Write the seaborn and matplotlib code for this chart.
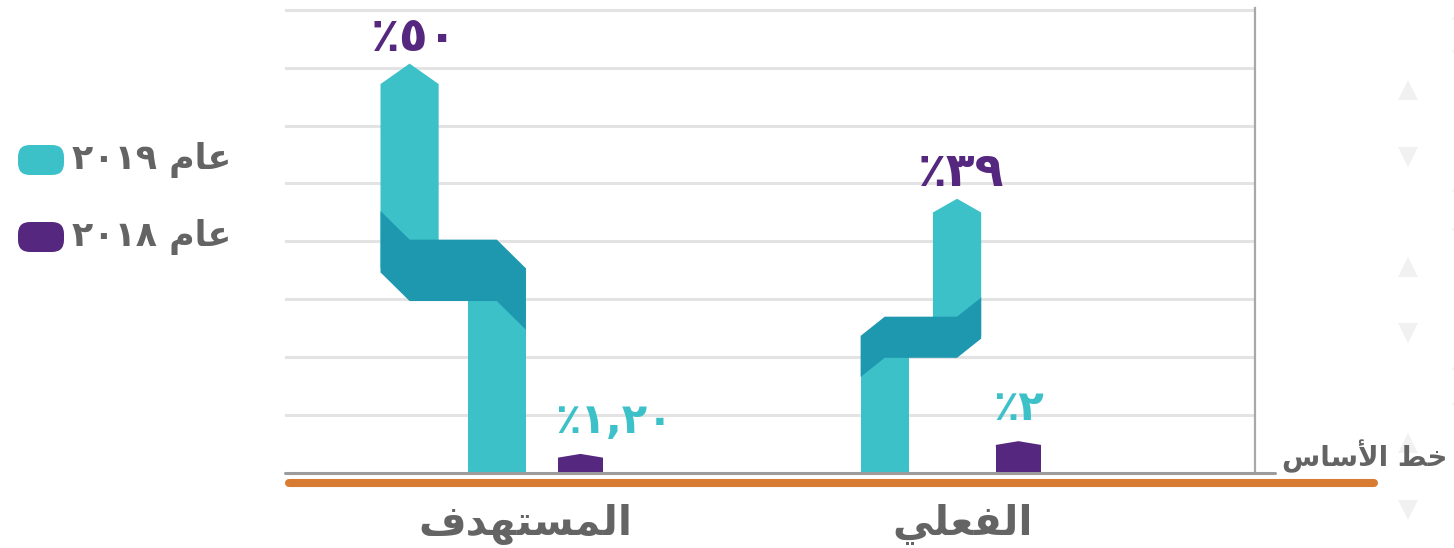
import numpy as np
import pandas as pd
import matplotlib
matplotlib.use("Agg")
import matplotlib.pyplot as plt
import seaborn as sns
from matplotlib.patches import Polygon, FancyBboxPatch

# ---------------- data ----------------
categories = ["المستهدف", "الفعلي"]          # target, actual
years = ["2019", "2018"]
values_2019 = [50, 39]
values_2018 = [1.2, 2]
labels_2019 = ["٪٥٠", "٪٣٩"]
labels_2018 = ["٪١,٢٠", "٪٢"]
legend_labels = ["عام ٢٠١٩", "عام ٢٠١٨"]
baseline_label = "خط الأساس"

# visual (shaped, right-to-left reordered) forms of the Arabic strings,
# since matplotlib does not shape Arabic text itself
DISPLAY = {
    "المستهدف": "\uFED1\uFEAA\uFEEC\uFE98\uFEB4\uFEE4\uFEDF\uFE8D",
    "الفعلي": "\uFEF2\uFEE0\uFECC\uFED4\uFEDF\uFE8D",
    "خط الأساس": "\uFEB1\uFE8E\uFEB3\uFEF7\uFE8D \uFEC2\uFEA7",
    "عام ٢٠١٩": "٢٠١٩ \uFEE1\uFE8E\uFECB",
    "عام ٢٠١٨": "٢٠١٨ \uFEE1\uFE8E\uFECB",
}

# broken-axis display scale (value -> grid level)
KNOT_VALUES = np.array([0.0, 4.0, 40.0, 60.0])
KNOT_LEVELS = np.array([0.0, 1.1, 4.84, 9.3])


def fwd(v):
    return np.interp(np.asarray(v, dtype=float), KNOT_VALUES, KNOT_LEVELS)


def inv(u):
    return np.interp(np.asarray(u, dtype=float), KNOT_LEVELS, KNOT_VALUES)


# ---------------- style ----------------
TEAL = "#3DC1C9"
DARK_TEAL = "#1E98AF"
PURPLE = "#55277F"
ORANGE = "#D87C34"
GRID = "#E3E3E3"
AXIS_GRAY = "#9C9C9C"
TEXT_GRAY = "#646464"
ZIG = [-1, 1]              # side of the upper segment of each folded bar
TEAL_WIDEN = [1.29, 1.07]  # folded bar width relative to seaborn bar

W_PX, H_PX = 1454, 548
sns.set_theme(style="white")
plt.rcParams["font.family"] = ["DejaVu Sans"]

fig = plt.figure(figsize=(W_PX / 100, H_PX / 100), dpi=100)
ax = fig.add_axes([285 / W_PX, 75 / H_PX, 970 / W_PX, 465 / H_PX])
ax.set_yscale("function", functions=(fwd, inv))

df = pd.DataFrame({
    "category": categories * 2,
    "year": [years[0]] * 2 + [years[1]] * 2,
    "value": values_2019 + values_2018,
})

sns.barplot(data=df, x="category", y="value", hue="year", hue_order=years,
            palette=[TEAL, PURPLE], saturation=1, width=0.507, gap=0.594,
            errorbar=None, legend=False, ax=ax, zorder=3,
            linewidth=0, edgecolor="none")

ax.set_xlim(-0.548, 1.667)
ax.set_ylim(0, float(inv(8.03)))
ax.set_yticks(inv(np.arange(0, 9)))
ax.set_yticklabels([])
ax.tick_params(axis="both", length=0)
ax.grid(axis="y", color=GRID, linewidth=2.2, zorder=0)
ax.grid(axis="x", visible=False)
ax.set_axisbelow(True)
for side in ["left", "top", "bottom"]:
    ax.spines[side].set_visible(False)
ax.spines["right"].set_color("#A8A8A8")
ax.spines["right"].set_linewidth(1.6)
ax.set_xlabel("")
ax.set_ylabel("")

ax.set_xticks([0, 1])
ax.set_xticklabels([DISPLAY[c] for c in categories], fontsize=29.5,
                   fontweight="bold", color=TEXT_GRAY)
ax.tick_params(axis="x", pad=22)

# baseline (gray) reaching a bit past the right axis line
ax.plot([0, 1.021], [0, 0], transform=ax.get_yaxis_transform(),
        color=AXIS_GRAY, linewidth=2.2, clip_on=False, zorder=6)


def poly(pts, color, z):
    xy = [(x, float(inv(u))) for x, u in pts]
    ax.add_patch(Polygon(xy, closed=True, facecolor=color, edgecolor="none",
                         linewidth=0, zorder=z))


teal_rgb = matplotlib.colors.to_rgb(TEAL)
for cont in ax.containers:
    for bar in cont:
        c = bar.get_x() + bar.get_width() / 2
        i = int(round(c))
        v = bar.get_height()
        H = float(fwd(v))
        bar.set_linewidth(0)
        if np.allclose(bar.get_facecolor()[:3], teal_rgb):
            w = bar.get_width() * TEAL_WIDEN[i]
            d = ZIG[i]
            cu = c + d * 1.03 * w
            cl = c - d * 0.47 * w
            # lower segment: the seaborn bar itself
            bar.set_x(cl - w / 2)
            bar.set_width(w)
            bar.set_height(float(inv(0.5 * H)))
            # upper segment with pointed top
            poly([(cu - w / 2, 0.5 * H), (cu + w / 2, 0.5 * H),
                  (cu + w / 2, 0.95 * H), (cu, H), (cu - w / 2, 0.95 * H)],
                 TEAL, 3)
            # folded band
            T, B, dd, s = 0.57 * H, 0.42 * H, 0.07 * H, w / 2
            xu = cu + d * w / 2
            xl = cl - d * w / 2
            poly([(xu, T + dd), (xu - d * s, T), (xl + d * s, T), (xl, T - dd),
                  (xl, B - dd), (xl + d * s, B), (xu - d * s, B), (xu, B + dd)],
                 DARK_TEAL, 4)
            ax.annotate(labels_2019[i], (cu, v), xytext=(3, 18),
                        textcoords="offset points", ha="center", va="center",
                        fontsize=34, fontweight="bold", color=PURPLE,
                        zorder=7)
        else:
            w = bar.get_width()
            tip = 0.065
            # body: the seaborn bar up to the shoulders
            bar.set_height(float(inv(H - tip)))
            poly([(c - w / 2, H - tip - 0.04), (c + w / 2, H - tip - 0.04),
                  (c + w / 2, H - tip), (c, H), (c - w / 2, H - tip)],
                 PURPLE, 3)
            ax.annotate(labels_2018[i], (c - w / 2, v), xytext=(-2, 24),
                        textcoords="offset points", ha="left", va="center",
                        fontsize=30, fontweight="bold", color=TEAL, zorder=7)

# ---------------- overlay in pixel coordinates ----------------
ov = fig.add_axes([0, 0, 1, 1], zorder=5)
ov.set_xlim(0, W_PX)
ov.set_ylim(H_PX, 0)
ov.axis("off")

# orange rounded rule under the chart
ov.plot([289, 1374], [483, 483], color=ORANGE, linewidth=5.8,
        solid_capstyle="round")

# faint decorative triangles at the right
for y, m in [(90, "^"), (157, "v"), (267, "^"), (333, "v"), (443, "^"), (510, "v")]:
    ov.plot(1408, y, marker=m, markersize=15, color="#F1F1F1",
            markeredgewidth=0, zorder=0)
for y, m in [(10, "^"), (60, "v"), (182, "^"), (238, "v"), (360, "^"), (413, "v")]:
    ov.plot(1462, y, marker=m, markersize=15, color="#F1F1F1",
            markeredgewidth=0, zorder=0, clip_on=False)

ov.text(1447, 456, DISPLAY[baseline_label], ha="right", va="center",
        fontsize=20, fontweight="bold", color=TEXT_GRAY)

# legend
for (y, col, lab) in [(160, TEAL, legend_labels[0]), (237, PURPLE, legend_labels[1])]:
    ov.add_patch(FancyBboxPatch((18, y - 15), 46, 30,
                                boxstyle="round,pad=0,rounding_size=12",
                                facecolor=col, edgecolor="none"))
    ov.text(72, y, DISPLAY[lab], ha="left", va="center", fontsize=25,
            fontweight="bold", color=TEXT_GRAY)

fig.savefig("out.png", dpi=100)
